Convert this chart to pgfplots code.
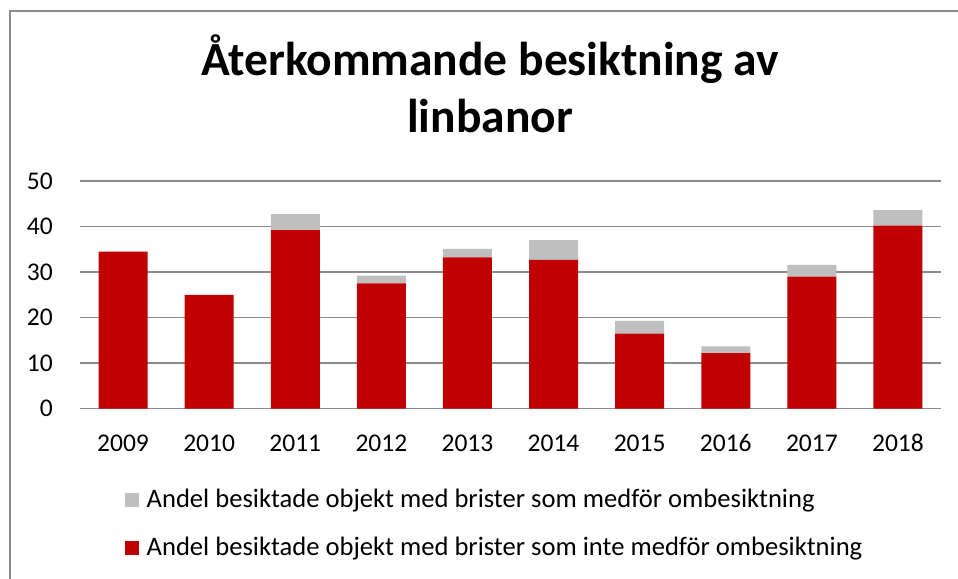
\documentclass[border=0pt]{standalone}
\usepackage{fontspec}
\setmainfont{Carlito}
\usepackage{pgfplots}
\usepackage{pgfplotstable}
\pgfplotsset{compat=1.18}
\definecolor{barRed}{RGB}{192,0,0}
\definecolor{barGray}{RGB}{191,191,191}
\definecolor{gridGray}{RGB}{140,140,140}

% x = year index (0 = 2009), red = utan ombesiktning, gray = med ombesiktning (staplad ovanpå)
\pgfplotstableread{
x red gray
0 34.5 0.0
1 25.0 0.0
2 39.2 3.5
3 27.5 1.7
4 33.2 1.9
5 32.7 4.3
6 16.5 2.8
7 12.2 1.5
8 29.0 2.6
9 40.2 3.4
}\besiktning

\begin{document}
\begin{tikzpicture}[x=1bp,y=1bp]
\useasboundingbox (0,0) rectangle (958,579);
\draw[gridGray,line width=1.3bp] (10,-10) -- (10,568) -- (970,568);
\node[anchor=base,inner sep=0pt,font=\fontsize{47.5bp}{58bp}\selectfont\bfseries] at (490,503) {Återkommande besiktning av};
\node[anchor=base,inner sep=0pt,font=\fontsize{47.5bp}{58bp}\selectfont\bfseries] at (490,446) {linbanor};
\begin{axis}[
  at={(80bp,170.3bp)},anchor=south west,
  scale only axis,width=861bp,height=227.7bp,
  ybar stacked,bar width=49bp,
  xmin=-0.5,xmax=9.5,ymin=0,ymax=50,
  xtick={0,...,9},xticklabels={2009,2010,2011,2012,2013,2014,2015,2016,2017,2018},
  ytick={0,10,...,50},
  axis line style={draw=none},
  major tick length=0pt,tick style={draw=none},
  ymajorgrids,grid style={gridGray,line width=1.5bp},
  /pgf/number format/assume math mode=true,
  tick label style={font=\fontsize{25.5bp}{30bp}\selectfont},
  yticklabel style={anchor=east,inner sep=0pt,xshift=-27bp},
  xticklabel style={anchor=base,inner sep=0pt,yshift=-43bp},
  reverse legend,
  legend style={at={(0.0522,-0.3557)},anchor=north west,draw=none,fill=none,
    inner sep=0pt,row sep=24bp,column sep=0pt,
    font=\fontsize{26.6bp}{30bp}\selectfont,
    cells={anchor=base west},
    nodes={inner sep=0pt,text height=18bp,text depth=6bp}},
  legend image code/.code={\path[#1,draw=none] (0bp,1bp) rectangle (14.3bp,15bp); \path (21.5bp,0bp);},
]
\addplot[fill=barRed,draw=none] table[x=x,y=red] {\besiktning};
\addplot[fill=barGray,draw=none] table[x=x,y=gray] {\besiktning};
\legend{Andel besiktade objekt med brister som inte medför ombesiktning,
        Andel besiktade objekt med brister som medför ombesiktning}
\end{axis}
\end{tikzpicture}
\end{document}
